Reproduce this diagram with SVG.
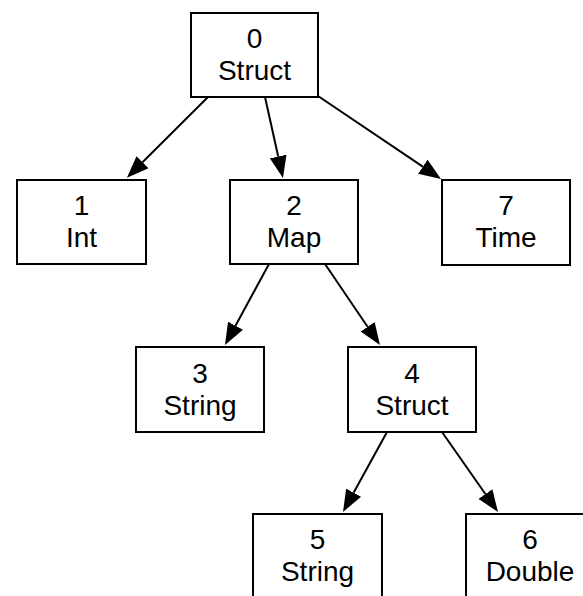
<svg xmlns="http://www.w3.org/2000/svg" width="583" height="596" viewBox="0 0 583 596">
  <style>
    .box { fill: #ffffff; stroke: #000000; stroke-width: 2; }
    .lbl { font-family: "Liberation Sans", Arial, sans-serif; font-size: 28px; fill: #000000; text-anchor: middle; }
    .edge { stroke: #000000; stroke-width: 2; fill: none; marker-end: url(#arrow); }
  </style>
  <defs>
    <marker id="arrow" markerUnits="userSpaceOnUse" markerWidth="22" markerHeight="17" viewBox="0 -8.5 22 17" refX="0" refY="0" orient="auto">
      <path d="M0,-8.5 L22,0 L0,8.5 Z" fill="#000000"/>
    </marker>
  </defs>

  <g id="edges">
    <line class="edge" x1="208" y1="97" x2="142.5" y2="162.3"/>
    <line class="edge" x1="265" y1="97" x2="278.2" y2="156.5"/>
    <line class="edge" x1="318" y1="96" x2="422.8" y2="166.7"/>
    <line class="edge" x1="269" y1="264" x2="235.5" y2="325.7"/>
    <line class="edge" x1="325" y1="264" x2="367.6" y2="326.8"/>
    <line class="edge" x1="387" y1="432" x2="353.6" y2="492.7"/>
    <line class="edge" x1="442" y1="432" x2="485.4" y2="494"/>
  </g>

  <g id="node0">
    <rect class="box" x="191" y="13" width="127" height="84"/>
    <text class="lbl" x="254.5" y="48">0</text>
    <text class="lbl" x="254.5" y="80">Struct</text>
  </g>
  <g id="node1">
    <rect class="box" x="17" y="180" width="129" height="84"/>
    <text class="lbl" x="81.5" y="215">1</text>
    <text class="lbl" x="81.5" y="247">Int</text>
  </g>
  <g id="node2">
    <rect class="box" x="230" y="180" width="128" height="84"/>
    <text class="lbl" x="294" y="215">2</text>
    <text class="lbl" x="294" y="247">Map</text>
  </g>
  <g id="node7">
    <rect class="box" x="442" y="180" width="128" height="85"/>
    <text class="lbl" x="506" y="215">7</text>
    <text class="lbl" x="506" y="247">Time</text>
  </g>
  <g id="node3">
    <rect class="box" x="136" y="347" width="128" height="85"/>
    <text class="lbl" x="200" y="382.5">3</text>
    <text class="lbl" x="200" y="414.5">String</text>
  </g>
  <g id="node4">
    <rect class="box" x="348" y="347" width="128" height="85"/>
    <text class="lbl" x="412" y="382.5">4</text>
    <text class="lbl" x="412" y="414.5">Struct</text>
  </g>
  <g id="node5">
    <rect class="box" x="253" y="514" width="129" height="84"/>
    <text class="lbl" x="317.5" y="549">5</text>
    <text class="lbl" x="317.5" y="581">String</text>
  </g>
  <g id="node6">
    <rect class="box" x="466" y="514" width="128" height="84"/>
    <text class="lbl" x="530" y="549">6</text>
    <text class="lbl" x="530" y="581">Double</text>
  </g>
</svg>
